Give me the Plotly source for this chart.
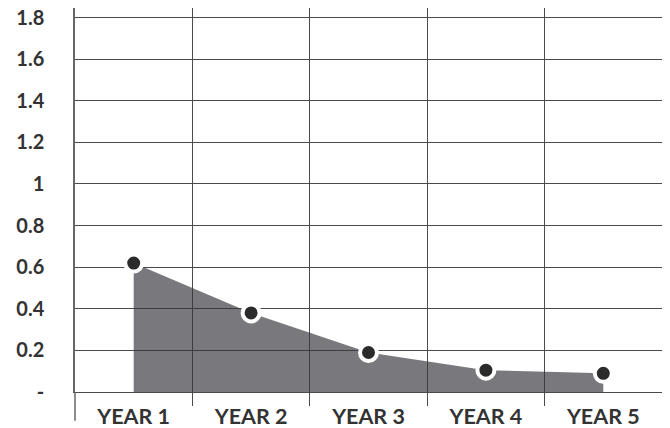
import plotly.graph_objects as go

categories = ["YEAR 1", "YEAR 2", "YEAR 3", "YEAR 4", "YEAR 5"]
values = [0.62, 0.38, 0.19, 0.105, 0.09]
y_tickvals = [0, 0.2, 0.4, 0.6, 0.8, 1.0, 1.2, 1.4, 1.6, 1.8]
y_ticktext = ["-", "0.2", "0.4", "0.6", "0.8", "1", "1.2", "1.4", "1.6", "1.8"]

xpos = list(range(len(categories)))

fig = go.Figure()
fig.add_trace(go.Scatter(
    x=xpos, y=values, mode="lines+markers", fill="tozeroy",
    fillcolor="rgba(58,58,64,0.68)",
    line=dict(width=0, color="rgba(0,0,0,0)"),
    marker=dict(size=17, color="#2b2b2b", line=dict(color="white", width=4)),
    hoverinfo="skip", cliponaxis=False,
))

grid_color = "#4a4a4a"
fig.update_layout(
    width=670, height=428,
    margin=dict(l=75, r=8, t=8, b=36),
    plot_bgcolor="white", paper_bgcolor="white",
    showlegend=False,
    font=dict(family="Lato", size=20, color="#333333"),
    xaxis=dict(
        range=[-0.5, 4.5], tickvals=xpos, ticktext=categories,
        showgrid=False, zeroline=False, showline=True,
        linecolor=grid_color, linewidth=1.2,
        ticks="", automargin=False,
        tickfont=dict(family="Lato", size=21.5, color="#333333", weight="bold"),
        minor=dict(tickvals=[0.5, 1.5, 2.5, 3.5], showgrid=True,
                   gridcolor=grid_color, gridwidth=1.2,
                   ticks="outside", ticklen=13, tickcolor=grid_color, tickwidth=1.2),
        ticklabelstandoff=5,
    ),
    yaxis=dict(
        range=[0, 1.846], tickvals=y_tickvals, ticktext=y_ticktext,
        showgrid=True, gridcolor=grid_color, gridwidth=1.2,
        zeroline=False, showline=True, linecolor="#666666", linewidth=1.5,
        ticks="", ticklabelstandoff=25, automargin=False,
        tickfont=dict(family="Lato", size=20, color="#333333", weight="bold"),
    ),
)
fig.add_shape(type="line", xref="paper", yref="paper", x0=0, x1=0, y0=-0.075, y1=0,
              line=dict(color="#666666", width=1.5))

# remove the default page margin so the figure sits at the window's corner
fig.write_html("out.html", config={"displayModeBar": False},
               post_script="document.body.style.margin='0';")
